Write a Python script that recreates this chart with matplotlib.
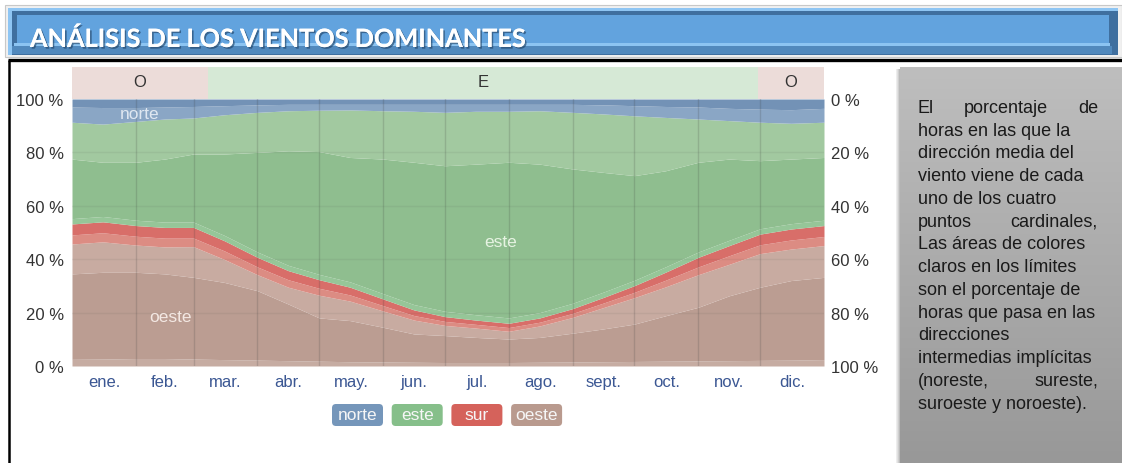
import matplotlib
matplotlib.use("Agg")
import matplotlib.pyplot as plt
from matplotlib.patches import Rectangle, FancyBboxPatch
import matplotlib.patheffects as pe
import numpy as np

plt.rcParams['font.family'] = ['Liberation Sans', 'DejaVu Sans']

W, H = 1122, 464

# dias del año donde se leyeron los limites
days = [0, 15, 31, 45, 59, 74, 90, 105, 120, 135, 151, 166, 181,
        196, 212, 227, 243, 258, 273, 288, 304, 319, 334, 349, 365]

# limites acumulados (%) de abajo hacia arriba
oeste_base = [2.5, 2.6, 2.8, 2.8, 2.6, 2.4, 2.2, 2.0, 1.8, 1.6, 1.5, 1.4, 1.3,
              1.3, 1.3, 1.4, 1.5, 1.6, 1.7, 1.8, 1.9, 2.0, 2.1, 2.2, 2.4]
oeste_core = [34.5, 35.1, 35.1, 34.5, 33.2, 31.3, 28.2, 23.2, 18.0, 17.0, 14.5, 12.0, 11.4,
              10.7, 10.1, 10.7, 12.3, 13.9, 15.7, 18.8, 22.0, 26.3, 29.5, 32.0, 33.2]
oeste_top = [45.7, 46.5, 45.3, 44.6, 44.7, 39.9, 34.2, 29.5, 26.5, 24.3, 20.6, 17.2, 15.2,
             14.2, 13.0, 15.0, 18.2, 21.9, 25.6, 29.6, 34.2, 38.1, 42.1, 43.8, 45.1]
sur_low = [49.1, 49.9, 48.6, 47.9, 47.9, 43.1, 37.1, 32.3, 29.1, 26.6, 22.6, 18.9, 16.7,
           15.6, 14.4, 16.4, 19.7, 23.6, 27.6, 32.1, 37.1, 41.3, 45.4, 47.2, 48.5]
sur_top = [53.2, 54.0, 52.6, 51.9, 51.9, 46.9, 40.7, 35.7, 32.3, 29.5, 25.1, 21.0, 18.5,
           17.2, 16.0, 18.0, 21.5, 25.7, 30.1, 35.1, 40.7, 45.1, 49.4, 51.3, 52.6]
este_low = [55.2, 56.0, 54.6, 53.9, 53.9, 48.9, 42.7, 37.7, 34.3, 31.5, 27.1, 23.0, 20.5,
            19.2, 18.0, 20.0, 23.5, 27.7, 32.1, 37.1, 42.7, 47.1, 51.4, 53.3, 54.6]
este_core = [77.5, 76.3, 76.3, 77.5, 79.4, 79.4, 80.0, 80.6, 80.3, 78.1, 77.5, 76.3, 75.0,
             75.6, 76.3, 75.6, 73.8, 72.5, 71.3, 73.1, 76.3, 77.5, 76.9, 77.5, 78.1]
este_top = [91.3, 90.6, 91.6, 92.5, 92.9, 94.1, 95.0, 95.6, 95.8, 95.9, 95.6, 95.4, 95.0,
            95.4, 95.4, 95.6, 95.0, 94.4, 93.7, 93.1, 92.5, 91.9, 91.3, 90.9, 91.3]
norte_low = [97.0, 96.8, 96.8, 97.0, 97.2, 97.5, 97.8, 98.0, 98.0, 98.0, 98.0, 98.0, 98.0,
             98.0, 98.0, 98.0, 98.0, 97.8, 97.5, 97.2, 97.0, 96.5, 96.2, 96.0, 96.5]

months = ['ene.', 'feb.', 'mar.', 'abr.', 'may.', 'jun.', 'jul.', 'ago.', 'sept.', 'oct.', 'nov.', 'dic.']
month_len = [31, 28, 31, 30, 31, 30, 31, 31, 30, 31, 30, 31]

band_labels = ['O', 'E', 'O']
band_start = [0, 66, 333]
band_end = [66, 333, 365]

legend_names = ['norte', 'este', 'sur', 'oeste']

note_lines = ["El porcentaje de", "horas en las que la", "dirección media del",
              "viento viene de cada", "uno de los cuatro", "puntos cardinales,",
              "Las áreas de colores", "claros en los límites", "son el porcentaje de",
              "horas que pasa en las", "direcciones", "intermedias implícitas",
              "(noreste, sureste,", "suroeste y noroeste)."]
note_justified = [True, False, False, False, False, True, False, False, False,
                  False, False, False, True, False]

fig = plt.figure(figsize=(W / 100, H / 100), dpi=100)
fig.patch.set_facecolor('white')

# fondo en pixeles
bg = fig.add_axes([0, 0, 1, 1])
bg.set_xlim(0, W)
bg.set_ylim(H, 0)
bg.axis('off')
bg.set_zorder(-5)

# barra del titulo
bg.add_patch(Rectangle((5, 6), W - 5, 52, fc='#f0f0f0', ec='#c8c8c8', lw=0.8))
bg.add_patch(Rectangle((8, 9), W - 12, 47, fc='#3f6f9f', lw=0))
bg.add_patch(Rectangle((8, 9), W - 12, 3, fc='#8ec5f3', lw=0))
bg.add_patch(Rectangle((8, 9), 4, 47, fc='#8ec5f3', lw=0))
bg.add_patch(Rectangle((17, 16), W - 30, 28, fc='#62a3de', lw=0))
bg.add_patch(Rectangle((14, 44), W - 26, 3, fc='#8cc4f2', lw=0))
bg.add_patch(Rectangle((12, 47), W - 22, 8, fc='#5189bd', lw=0))
bg.text(30, 48, 'ANÁLISIS DE LOS VIENTOS DOMINANTES', color='white', fontsize=18.2,
        fontweight='bold', family=['Lato', 'DejaVu Sans'], va='baseline', ha='left',
        path_effects=[pe.withSimplePatchShadow(offset=(1.2, -1.2), shadow_rgbFace='#1d3d5e', alpha=0.6),
                      pe.Normal()])

# marco negro
bg.plot([8, W], [61, 61], color='black', lw=2.4, solid_capstyle='butt')
bg.plot([9, 9], [61, H], color='black', lw=1.8, solid_capstyle='butt')

# caja gris de la derecha
grad = np.linspace(0, 1, 200)[:, None]
cols = np.array([190, 190, 190]) * (1 - grad[..., None]) + np.array([152, 152, 152]) * grad[..., None]
bg.imshow(np.repeat(cols / 255.0, 2, axis=1), extent=(900, W, H, 68), aspect='auto', zorder=1)
for i, a in enumerate([0.10, 0.18, 0.28, 0.40]):
    bg.add_patch(Rectangle((896 + i, 70), 1, H - 70, fc='#555555', alpha=a, lw=0, zorder=1))

# texto de la caja
renderer = fig.canvas.get_renderer()
x0, x1 = 918, 1098
for i, line in enumerate(note_lines):
    y = 108.3 + i * 22.75
    if note_justified[i]:
        words = line.split()
        tws = []
        for w in words:
            t = bg.text(0, 0, w, fontsize=13)
            bb = t.get_window_extent(renderer)
            tws.append(bb.width)
            t.remove()
        gap = (x1 - x0 - sum(tws)) / (len(words) - 1)
        x = x0
        for w, tw in zip(words, tws):
            bg.text(x, y, w, fontsize=13, color='#1a1a1a', va='center', ha='left', zorder=3)
            x += tw + gap
    else:
        bg.text(x0, y, line, fontsize=13, color='#1a1a1a', va='center', ha='left', zorder=3)

# grafico principal
ax = fig.add_axes([72 / W, (H - 367) / H, 752 / W, 267 / H])
bounds = [[0] * len(days), oeste_base, oeste_core, oeste_top, sur_low, sur_top,
          este_low, este_core, este_top, norte_low, [100] * len(days)]
fills = ['#c6aca2', '#bb9d92', '#c8aba1', '#dc8c83', '#d86e69',
         '#96c698', '#8fbe8f', '#a2c9a0', '#8aa6c5', '#7392b6']
for k in range(len(fills)):
    ax.fill_between(days, bounds[k], bounds[k + 1], color=fills[k], lw=0, zorder=1)

ax.set_xlim(0, 365)
ax.set_ylim(0, 100)
edges = np.cumsum(month_len)[:-1]
for e in edges:
    ax.axvline(e, color='#3a3a3a', alpha=0.18, lw=1, zorder=2)
for v in [20, 40, 60, 80]:
    ax.axhline(v, color='#3a3a3a', alpha=0.07, lw=1, zorder=2)
for s in ax.spines.values():
    s.set_visible(False)

mids = np.cumsum(month_len) - np.array(month_len) / 2
ax.set_xticks(mids)
ax.set_xticklabels(months, color='#3b5793', fontsize=12)
ax.tick_params(axis='x', length=0, pad=6)
ticks = [0, 20, 40, 60, 80, 100]
ax.set_yticks(ticks)
ax.set_yticklabels([f'{v} %' for v in ticks], color='#333333', fontsize=12)
ax.tick_params(axis='y', length=0, pad=6)

ax2 = ax.twinx()
ax2.set_ylim(0, 100)
ax2.set_yticks(ticks)
ax2.set_yticklabels([f'{100 - v} %' for v in ticks], color='#333333', fontsize=12)
ax2.tick_params(axis='y', length=0, pad=5)
for s in ax2.spines.values():
    s.set_visible(False)

ax.text(33, 94.4, 'norte', color='#dfe7f1', fontsize=12.5, ha='center', va='center', zorder=3)
ax.text(208, 46.8, 'este', color='#e6f3e2', fontsize=12.5, ha='center', va='center', zorder=3)
ax.text(48, 18.4, 'oeste', color='#f3e8e3', fontsize=12.5, ha='center', va='center', zorder=3)

# franja de direccion dominante
bax = fig.add_axes([72 / W, (H - 100) / H, 752 / W, 32 / H])
bax.set_xlim(0, 365)
bax.set_ylim(0, 1)
bax.axis('off')
for lab, a, b in zip(band_labels, band_start, band_end):
    bax.axvspan(a, b, color='#ecdcd9' if lab == 'O' else '#d6e9d6', lw=0)
    bax.text((a + b) / 2, 0.55, lab, ha='center', va='center', fontsize=12, color='#333333')

# leyenda
leg_cols = ['#7596ba', '#86bf8a', '#d5625b', '#b99a8e']
lx = 332
for name, c in zip(legend_names, leg_cols):
    bg.add_patch(FancyBboxPatch((lx, 405), 51, 22, boxstyle='round,pad=0,rounding_size=4',
                                fc=c, ec='none', zorder=2))
    bg.text(lx + 25.5, 416, name, color='#f6f6f6', fontsize=12.5, ha='center', va='center', zorder=3)
    lx += 59.7

fig.savefig('out.png', dpi=100)
